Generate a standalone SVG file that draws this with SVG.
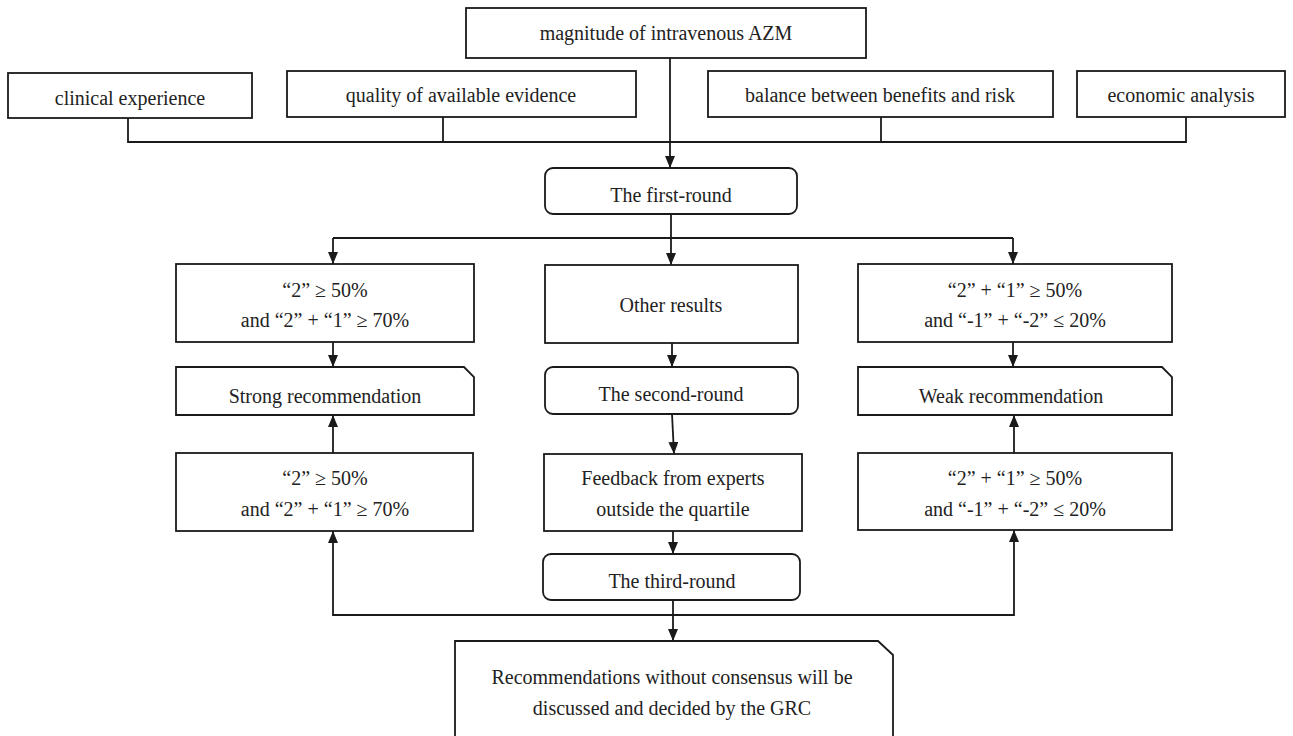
<svg xmlns="http://www.w3.org/2000/svg" width="1293" height="736" viewBox="0 0 1293 736">
<style>
.box{fill:#fff;stroke:#1a1a1a;stroke-width:1.8}
.ln{fill:none;stroke:#1a1a1a;stroke-width:1.8}
.arr{fill:none;stroke:#1a1a1a;stroke-width:1.8;marker-end:url(#ah)}
text{font-family:"Liberation Serif","Times New Roman",serif;font-size:20px;fill:#222;text-anchor:middle}
</style>
<defs>
<marker id="ah" viewBox="0 0 12 10" refX="12" refY="5" markerWidth="12" markerHeight="10" markerUnits="userSpaceOnUse" orient="auto">
<path d="M0,0 L12,5 L0,10 z" fill="#1a1a1a"/>
</marker>
</defs>
<rect width="1293" height="736" fill="#fff"/>
<g id="connectors">
<polyline class="ln" points="128,118 128,142 1186,142 1186,117"/>
<line class="ln" x1="443" y1="117" x2="443" y2="142"/>
<line class="ln" x1="881" y1="117" x2="881" y2="142"/>
<line class="arr" x1="670" y1="58" x2="670" y2="168"/>
<line class="ln" x1="671" y1="214" x2="671" y2="238"/>
<polyline class="arr" points="333,238 333,264"/>
<line class="ln" x1="333" y1="238" x2="1013" y2="238"/>
<polyline class="arr" points="1013,238 1013,264"/>
<line class="arr" x1="671" y1="238" x2="671" y2="265"/>
<line class="arr" x1="333" y1="342" x2="333" y2="367"/>
<line class="arr" x1="1013" y1="342" x2="1013" y2="367"/>
<line class="arr" x1="672" y1="343" x2="672" y2="367"/>
<line class="arr" x1="333" y1="453" x2="333" y2="415"/>
<line class="arr" x1="1014" y1="453" x2="1014" y2="415"/>
<line class="arr" x1="672" y1="414" x2="674" y2="454"/>
<line class="arr" x1="673" y1="531" x2="673" y2="554"/>
<line class="ln" x1="673" y1="600" x2="673" y2="615"/>
<polyline class="arr" points="673,615 333,615 333,531"/>
<polyline class="arr" points="673,615 1014,615 1014,530"/>
<line class="arr" x1="673" y1="615" x2="673" y2="641"/>
</g>
<g id="magnitude"><rect class="box" x="466" y="8" width="400" height="50"/><text x="666" y="40">magnitude of intravenous AZM</text></g>
<g id="clinical"><rect class="box" x="8" y="73" width="244" height="45"/><text x="130" y="105">clinical experience</text></g>
<g id="quality"><rect class="box" x="287" y="71" width="349" height="46"/><text x="461" y="102">quality of available evidence</text></g>
<g id="balance"><rect class="box" x="708" y="71" width="345" height="46"/><text x="880" y="102">balance between benefits and risk</text></g>
<g id="economic"><rect class="box" x="1077" y="71" width="208" height="46"/><text x="1181" y="102">economic analysis</text></g>
<g id="first-round"><rect class="box" x="545" y="168" width="252" height="46" rx="8"/><text x="671" y="202">The first-round</text></g>
<g id="strong-criteria-1"><rect class="box" x="176" y="264" width="298" height="78"/><text x="325" y="297">“2” ≥ 50%</text><text x="325" y="327">and “2” + “1” ≥ 70%</text></g>
<g id="other-results"><rect class="box" x="545" y="265" width="253" height="78"/><text x="671" y="312">Other results</text></g>
<g id="weak-criteria-1"><rect class="box" x="858" y="264" width="314" height="78"/><text x="1015" y="297">“2” + “1” ≥ 50%</text><text x="1015" y="327">and “-1” + “-2” ≤ 20%</text></g>
<g id="strong-rec"><path class="box" d="M176,367 H464 L474,377 V415 H176 Z"/><text x="325" y="403">Strong recommendation</text></g>
<g id="second-round"><rect class="box" x="545" y="367" width="253" height="47" rx="8"/><text x="671" y="401">The second-round</text></g>
<g id="weak-rec"><path class="box" d="M858,367 H1162 L1172,377 V415 H858 Z"/><text x="1011" y="403">Weak recommendation</text></g>
<g id="strong-criteria-2"><rect class="box" x="176" y="453" width="297" height="78"/><text x="325" y="485">“2” ≥ 50%</text><text x="325" y="516">and “2” + “1” ≥ 70%</text></g>
<g id="feedback"><rect class="box" x="544" y="454" width="258" height="77"/><text x="673" y="485">Feedback from experts</text><text x="673" y="516">outside the quartile</text></g>
<g id="weak-criteria-2"><rect class="box" x="858" y="453" width="314" height="77"/><text x="1015" y="485">“2” + “1” ≥ 50%</text><text x="1015" y="516">and “-1” + “-2” ≤ 20%</text></g>
<g id="third-round"><rect class="box" x="543" y="554" width="257" height="46" rx="8"/><text x="672" y="588">The third-round</text></g>
<g id="grc"><path class="box" d="M455,641 H878 L893,655 V745 H455 Z"/><text x="672" y="684">Recommendations without consensus will be</text><text x="672" y="715">discussed and decided by the GRC</text></g>
</svg>
